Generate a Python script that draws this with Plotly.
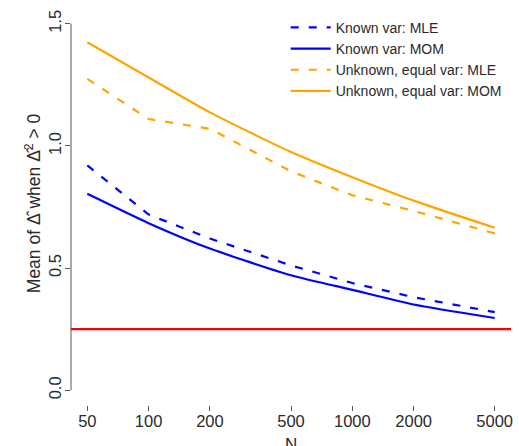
import numpy as np
import plotly.graph_objects as go

# Sample sizes and mean estimates of Delta-hat (given Delta-hat^2 > 0)
N = [50, 100, 200, 500, 1000, 2000, 5000]
known_mle = [0.920, 0.719, 0.621, 0.511, 0.439, 0.381, 0.320]
known_mom = [0.804, 0.684, 0.580, 0.471, 0.411, 0.351, 0.296]
unknown_mle = [1.274, 1.110, 1.070, 0.896, 0.798, 0.734, 0.642]
unknown_mom = [1.424, 1.280, 1.137, 0.975, 0.872, 0.776, 0.665]
true_delta = 0.25

x_ticks = [50, 100, 200, 500, 1000, 2000, 5000]
y_ticks = [0.0, 0.5, 1.0, 1.5]

BLUE = "#0000FF"
ORANGE = "#FFA500"
RED = "#FF0000"
AXIS = "#555555"
TEXT = "#2a2a2a"
FONT = "Liberation Sans, Arial, Helvetica, sans-serif"
DASH = "8px,10px"

# (label, values, colour, dash, line shape)
series = [
    ("Known var: MLE", known_mle, BLUE, DASH, "linear"),
    ("Known var: MOM", known_mom, BLUE, "solid", "spline"),
    ("Unknown, equal var: MLE", unknown_mle, ORANGE, DASH, "linear"),
    ("Unknown, equal var: MOM", unknown_mom, ORANGE, "solid", "spline"),
]

fig = go.Figure()
for name, vals, color, dash, shape in series:
    fig.add_trace(go.Scatter(
        x=N, y=vals, mode="lines", name=name,
        line=dict(color=color, width=2.2, dash=dash, shape=shape,
                  smoothing=0.6),
    ))

# log-scale x range padded 4% like base R graphics
lx0, lx1 = np.log10(min(x_ticks)), np.log10(max(x_ticks))
padx = 0.04 * (lx1 - lx0)
pady = 0.04 * (max(y_ticks) - min(y_ticks))

fig.update_xaxes(
    type="log", range=[lx0 - padx, lx1 + padx],
    tickvals=x_ticks, ticktext=[str(v) for v in x_ticks],
    ticks="outside", ticklen=5, tickcolor=AXIS, tickwidth=1,
    ticklabelstandoff=-4,
    showgrid=False, zeroline=False, showline=False,
    tickfont=dict(size=16.5, color=TEXT),
)
fig.update_yaxes(
    range=[min(y_ticks) - pady, max(y_ticks) + pady],
    tickvals=y_ticks, ticktext=[f"{v:.1f}" for v in y_ticks],
    ticks="outside", ticklen=5, tickcolor=AXIS, tickwidth=1,
    tickangle=-90, ticklabelstandoff=-3,
    showgrid=False, zeroline=False, showline=False,
    tickfont=dict(size=16.5, color=TEXT),
)

# axis lines spanning only the tick range
fig.add_shape(type="line", xref="x", yref="paper",
              x0=lx0, x1=lx1, y0=0, y1=0,
              line=dict(color=AXIS, width=1))
fig.add_shape(type="line", xref="paper", yref="y",
              x0=0, x1=0, y0=min(y_ticks), y1=max(y_ticks),
              line=dict(color=AXIS, width=1))

# reference line at the true value
fig.add_shape(type="line", xref="paper", yref="y",
              x0=0, x1=1, y0=true_delta, y1=true_delta,
              line=dict(color=RED, width=2.2))

fig.add_annotation(text="N", xref="paper", yref="paper",
                   x=0.5, y=-0.07, xanchor="center", yanchor="top",
                   showarrow=False, font=dict(size=17, color=TEXT))
fig.add_annotation(text="Mean of Δ̂ when Δ̂<sup>2</sup> > 0",
                   xref="paper", yref="paper",
                   x=-0.086, y=0.51, xanchor="center", yanchor="middle",
                   textangle=-90, showarrow=False,
                   font=dict(size=17.5, color=TEXT))

fig.update_layout(
    width=519, height=446,
    margin=dict(l=71, r=6, t=9, b=41),
    plot_bgcolor="white", paper_bgcolor="white",
    font=dict(family=FONT, color=TEXT),
    legend=dict(
        x=0.488, y=0.993, xanchor="left", yanchor="top",
        bgcolor="rgba(0,0,0,0)", font=dict(size=14, color=TEXT),
        tracegroupgap=0, itemwidth=40,
    ),
)

fig.write_html("out.html")
